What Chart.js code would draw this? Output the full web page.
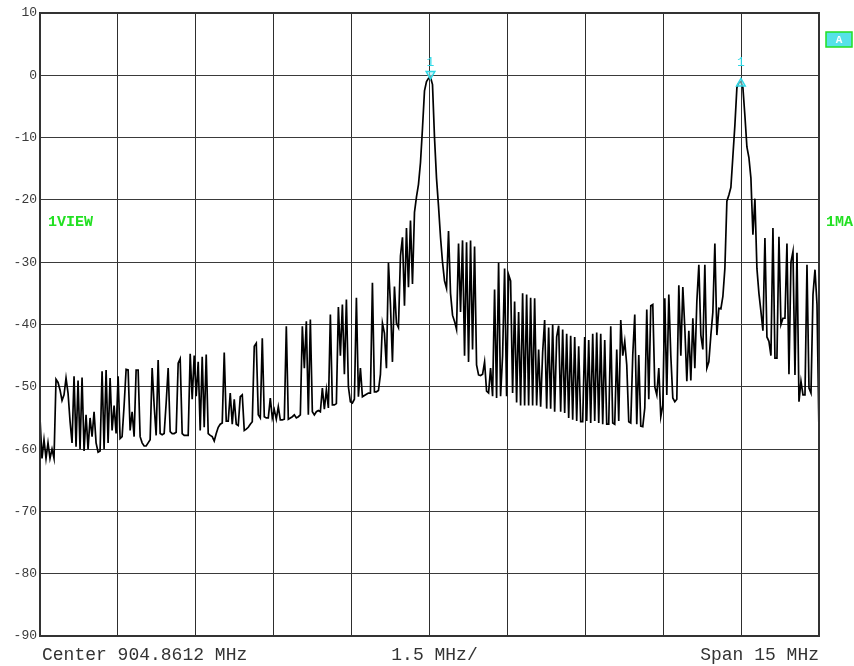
<!DOCTYPE html>
<html>
<head>
<meta charset="utf-8">
<script src="https://cdn.jsdelivr.net/npm/chart.js@4/dist/chart.umd.min.js"></script>
<style>
html,body{margin:0;padding:0;background:#fff;overflow:hidden;}
#wrap{width:854px;height:666px;position:relative;}
</style>
</head>
<body>
<div id="wrap"><canvas id="c"></canvas></div>
<script>
// ---- data ----
const CENTER_MHZ = 904.8612;
const SPAN_MHZ = 15;
const DIV_MHZ = 1.5;
const Y_MAX_DB = 10;
const Y_MIN_DB = -90;
const Y_STEP_DB = 10;

const LEVELS_DB = [
 -55, -61.5, -58.5, -61.5, -59, -61.5, -60, -61.5, -48.8, -49.3,
 -50.5, -52.2, -51.3, -48.6, -51, -55.5, -59, -48.3, -59.6, -49,
 -60, -48.5, -60.3, -54.5, -60, -55, -58, -54, -59, -60.5,
 -60.3, -47.5, -60, -47.3, -59, -48.6, -57, -53, -57.5, -48.3,
 -58.3, -58, -53, -47.2, -47.3, -57, -54, -58, -47.3, -47.3,
 -58, -59, -59.5, -59.5, -59, -58.5, -47, -53, -57.8, -45.7,
 -57.5, -57.7, -57.5, -52.6, -47, -57.2, -57.5, -57.5, -57.3, -46.2,
 -45.5, -57.5, -57.8, -57.8, -57.8, -44.7, -52, -45, -51.5, -46,
 -57, -45.2, -56.5, -44.8, -57.5, -57.8, -58, -58.7, -57.5, -56.5,
 -56, -55.8, -44.5, -55.5, -55.5, -51, -56, -52, -56, -56.2,
 -51.6, -51.3, -57, -56.8, -56.5, -56, -55.6, -43.5, -43, -54.5,
 -55, -42.2, -54.8, -55, -55, -51.8, -55, -53.7, -55.2, -53.2,
 -55.3, -55.3, -55.2, -40.3, -55.2, -55, -54.8, -54.5, -55, -54.8,
 -54.5, -40.3, -47, -39.5, -54.5, -39.2, -54, -54.5, -54, -53.8,
 -54, -50.2, -53.6, -50.5, -53.4, -38.4, -52.9, -52.9, -52.7, -37.2,
 -45, -36.8, -48, -36, -50, -52.4, -52.6, -52, -35.7, -51.6,
 -47, -51.6, -51.4, -51.2, -51, -51, -33.3, -50.8, -50.8, -50.6,
 -48, -39.8, -41.4, -47, -30.1, -36.8, -46, -33.9, -39.8, -40.5,
 -29, -26, -37, -24.5, -34, -23.3, -33.5, -22, -19.5, -17.5,
 -14, -8.5, -2.5, -1, -0.5, -0.3, -1.5, -10, -16.5, -21,
 -26, -30, -33, -34.2, -25, -35, -38.5, -39.5, -40.8, -27,
 -38, -26.5, -45, -26.8, -46, -26.5, -44, -27.5, -46.5, -48.1,
 -48.2, -48, -46, -50.7, -51, -47, -51.5, -34.4, -51.8, -30.1,
 -51.5, -45, -31, -51.5, -32, -33, -51, -36.3, -52.5, -38,
 -53, -35, -53, -35.2, -53, -35.7, -53, -35.8, -53, -44,
 -53.2, -44.5, -39.3, -53.5, -40.5, -53.5, -40, -54, -42, -40.2,
 -54, -40.8, -54.2, -41.5, -55, -41.8, -55.3, -42, -55.5, -43.5,
 -55.6, -55.6, -42, -55.5, -42.5, -55.8, -41.5, -55.5, -41.3, -55.8,
 -41.5, -56, -42.5, -56, -56, -40.3, -55.8, -56, -44, -55.5,
 -39.3, -45, -42.7, -46.5, -55.6, -55.8, -44.9, -38.4, -56, -44.9,
 -56.3, -56.4, -53.4, -37.6, -52, -37, -36.8, -50, -51.3, -47,
 -54.8, -53, -35.8, -51.3, -35.2, -45, -51.8, -52.4, -52, -33.7,
 -45, -34, -40.6, -49.1, -41, -49, -39, -47, -36.3, -30.4,
 -41.7, -44, -30.4, -47, -46, -41.7, -38, -27, -41.7, -37.4,
 -37.5, -35.5, -31, -20.2, -19.2, -18, -13, -8, -2, -1.2,
 -1, -2, -6.5, -11.5, -13.2, -16.5, -25.6, -19.8, -31, -35,
 -37.9, -41, -26.1, -42, -42.7, -45, -24.5, -45.4, -45.4, -25.9,
 -40, -39, -39, -27, -48, -30, -28.3, -48.1, -28.5, -52.4,
 -49.1, -51.3, -51.3, -30.4, -50.2, -51, -35.2, -31.2, -36.8, -57.5
];

const MARKER_INDEX = [195, 350];
const MARKER_LEVELS_DB = [0.2, -1.3];
const MARKER_ROTATION = [180, 0];
const MARKER_TEXT = ['1', '1'];
const MARKER_LABEL_LEVEL_DB = 2;

const LEFT_TAG = '1VIEW';
const RIGHT_TAG = '1MA';
const BOX_TAG = 'A';

// ---- derived ----
const FREQ_START = CENTER_MHZ - SPAN_MHZ / 2;
const FREQ_STOP = CENTER_MHZ + SPAN_MHZ / 2;
const N = LEVELS_DB.length;
const FREQS = LEVELS_DB.map((_, i) => FREQ_START + i * SPAN_MHZ / (N - 1));
const TRACE = LEVELS_DB.map((v, i) => ({x: FREQS[i], y: v}));
const MARKERS = MARKER_INDEX.map((idx, k) => ({x: FREQS[idx], y: MARKER_LEVELS_DB[k]}));
const NDIV = Math.round(SPAN_MHZ / DIV_MHZ);

const CYAN = '#2fd8e6';
const GREEN = '#22e022';
const MONO = '"Liberation Mono", "DejaVu Sans Mono", monospace';

const decorPlugin = {
  id: 'decor',
  afterDatasetsDraw(chart) {
    const {ctx, chartArea: a, scales} = chart;
    const xs = scales.x, ys = scales.y;
    ctx.save();
    // frame
    ctx.strokeStyle = '#333';
    ctx.lineWidth = 2;
    ctx.strokeRect(a.left, a.top, a.right - a.left, a.bottom - a.top);
    // marker labels
    ctx.fillStyle = CYAN;
    ctx.font = '13px ' + MONO;
    ctx.textAlign = 'center';
    ctx.textBaseline = 'middle';
    MARKERS.forEach((m, k) => {
      ctx.fillText(MARKER_TEXT[k], xs.getPixelForValue(m.x), ys.getPixelForValue(MARKER_LABEL_LEVEL_DB));
    });
    // bottom annotation
    ctx.fillStyle = '#333';
    ctx.font = '18px ' + MONO;
    const ty = a.bottom + 19;
    ctx.textAlign = 'left';
    ctx.fillText('Center ' + CENTER_MHZ.toFixed(4) + ' MHz', a.left + 2, ty);
    ctx.textAlign = 'center';
    ctx.fillText(DIV_MHZ.toFixed(1) + ' MHz/', (a.left + a.right) / 2 + 5, ty);
    ctx.textAlign = 'right';
    ctx.fillText('Span ' + SPAN_MHZ + ' MHz', a.right, ty);
    // green tags
    ctx.fillStyle = GREEN;
    ctx.font = 'bold 15px ' + MONO;
    ctx.textAlign = 'left';
    ctx.fillText(LEFT_TAG, a.left + 8, a.top + 209);
    ctx.fillText(RIGHT_TAG, a.right + 7, a.top + 209);
    // A box
    const bx = a.right + 7, by = a.top + 19, bw = 26, bh = 15;
    ctx.fillStyle = '#55e2e8';
    ctx.fillRect(bx, by, bw, bh);
    ctx.strokeStyle = GREEN;
    ctx.lineWidth = 1.5;
    ctx.strokeRect(bx, by, bw, bh);
    ctx.fillStyle = '#ffffff';
    ctx.font = 'bold 11px ' + MONO;
    ctx.textAlign = 'center';
    ctx.fillText(BOX_TAG, bx + bw / 2, by + bh / 2 + 1);
    ctx.restore();
  }
};

new Chart(document.getElementById('c'), {
  type: 'line',
  data: {
    datasets: [
      {
        data: TRACE,
        borderColor: '#000',
        borderWidth: 1.7,
        pointRadius: 0,
        tension: 0,
        fill: false,
        order: 2
      },
      {
        type: 'scatter',
        data: MARKERS,
        pointStyle: 'triangle',
        rotation: MARKER_ROTATION,
        pointRadius: 5,
        borderColor: CYAN,
        backgroundColor: 'rgba(170,240,245,0.6)',
        borderWidth: 1.5,
        order: 1
      }
    ]
  },
  options: {
    responsive: true,
    maintainAspectRatio: false,
    animation: false,
    events: [],
    layout: {padding: {top: 13, right: 35, left: 0, bottom: 0}},
    plugins: {legend: {display: false}, tooltip: {enabled: false}, title: {display: false}},
    scales: {
      x: {
        type: 'linear',
        min: FREQ_START,
        max: FREQ_STOP,
        afterBuildTicks: (s) => {
          s.ticks = Array.from({length: NDIV + 1}, (_, k) => ({value: FREQ_START + k * DIV_MHZ}));
        },
        afterFit: (s) => { s.height = 30; },
        ticks: {display: false},
        grid: {color: '#2e2e2e', lineWidth: 1, drawTicks: false},
        border: {display: false}
      },
      y: {
        min: Y_MIN_DB,
        max: Y_MAX_DB,
        afterFit: (s) => { s.width = 40; },
        ticks: {
          stepSize: Y_STEP_DB,
          color: '#3a3a3a',
          padding: 3,
          font: {family: MONO, size: 13}
        },
        grid: {color: '#3a3a3a', lineWidth: 1, drawTicks: false},
        border: {display: false}
      }
    }
  },
  plugins: [decorPlugin]
});
</script>
</body>
</html>
